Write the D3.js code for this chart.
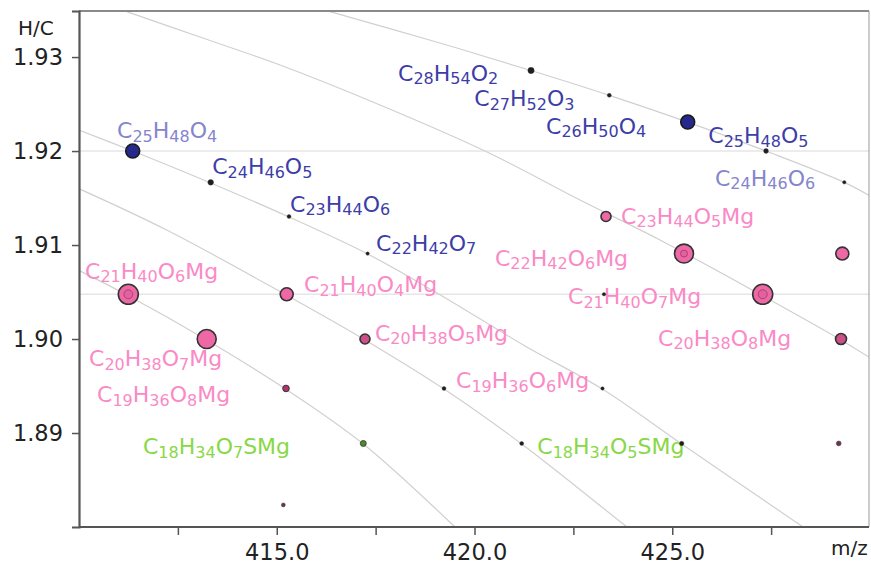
<!DOCTYPE html>
<html><head><meta charset="utf-8">
<script src="https://cdn.jsdelivr.net/npm/d3@7"></script>
<style>body{margin:0;background:#fff}svg{display:block}text{font-family:"DejaVu Sans",Verdana,sans-serif}</style>
</head><body><svg id="c" width="871" height="565"></svg>
<script>
// ---------- data ----------
const formulas = ["C25H48O4","C24H46O5","C23H44O6","C22H42O7","C28H54O2","C27H52O3","C26H50O4","C25H48O5","C24H46O6",
  "C21H40O6Mg","C20H38O7Mg","C19H36O8Mg","C21H40O4Mg","C20H38O5Mg","C19H36O6Mg","C18H34O7SMg","C18H34O5SMg","",
  "C23H44O5Mg","C22H42O6Mg","","","","C21H40O7Mg","","C20H38O8Mg","","","",""];
const mzValues = [411.358,413.330,415.310,417.297,421.429,423.408,425.391,427.371,429.350,
  411.247,413.229,415.234,415.252,417.231,419.229,417.188,421.193,415.166,
  423.325,425.297,423.274,423.236,425.239,427.287,429.300,429.267,429.209,
  411.247,427.287,425.297];
const hcValues = [1.92,1.91667,1.91304,1.90909,1.92857,1.92593,1.92308,1.92,1.91667,
  1.90476,1.90,1.89474,1.90476,1.90,1.89474,1.88889,1.88889,1.88235,
  1.91304,1.90909,1.90476,1.89474,1.88889,1.90476,1.90909,1.90,1.88889,
  1.90476,1.90476,1.90909];
const intensity = [49,8,4,3,10,4,49,6,3,
  100,90,11,42,25,4,9,4,4,
  25,90,3,3,5,100,42,30,6,
  20,20,12];
const markerClass = ["CHO","trace","trace","trace","trace","trace","CHO","trace","trace",
  "Mg","Mg","MgDeep","Mg","MgDark","trace","S","trace","traceMg",
  "Mg","Mg","trace","trace","trace","Mg","Mg","MgDark","traceMg",
  "MgInner","MgInner","MgInner"];
const labelClass = ["lite","dark","dark","dark","dark","dark","dark","dark","lite",
  "pink","pink","pink","pink","pink","pink","green","green","",
  "pink","pink","","","","pink","","pink","","","",""];
const yTicks = [1.89,1.90,1.91,1.92,1.93];
const xTicks = [412.5,415,417.5,420,422.5,425,427.5];
const xTickLabels = [415,420,425];
const gridValues = [1.92,1.90476];
const curves = [
  [[416.346,1.93483],[418.951,1.93171],[421.429,1.92857],[423.408,1.92593],[425.391,1.92308],[427.371,1.92],[429.350,1.91667],[430.05,1.91510]],
  [[411.206,1.93483],[413.059,1.93213],[415.082,1.92915],[417.611,1.92490],[420.316,1.91990],[422.668,1.91479],[424.690,1.91054],[427.295,1.90458],[429.267,1.89990],[430.05,1.89787]],
  [[409.9,1.92240],[411.358,1.92],[413.330,1.91660],[415.310,1.91298],[417.297,1.90905],[419.052,1.90490],[421.277,1.89926],[423.231,1.89468],[425.239,1.88883],[428.306,1.88],[428.736,1.87872]],
  [[409.9,1.91618],[412.217,1.91160],[415.252,1.90465],[417.231,1.89990],[419.229,1.89468],[421.193,1.88883],[423.856,1.88],[424.185,1.87894]],
  [[409.9,1.90750],[411.247,1.90461],[413.229,1.89990],[415.234,1.89465],[417.188,1.88883],[419.507,1.88],[419.760,1.87894]]
];

// ---------- layout / style ----------
const W = 871, H = 565;
const plot = {left:79, right:869, top:11, bottom:527};
const labelOffsets = {0:[-15.7,-12.7],1:[1.5,-8],2:[1,-4.5],3:[8.5,-3],4:[-133,10.3],5:[-135,10.7],6:[-141.7,11.7],
  7:[-57.7,-8],8:[-129.3,3.6],9:[-43.3,-15.7],10:[-117.7,27],11:[-189,13.7],12:[17.3,-1.8],13:[10,1.7],14:[12,0],
  15:[-220.3,11],16:[15.6,11],18:[15,7.3],19:[-189,12.4],23:[-194.7,10],25:[-183,6.7]};
const labelColor = {dark:"#3d3da8", lite:"#8585cc", pink:"#fa8ac6", green:"#88d845"};
const markerStyle = {
  CHO:{fill:"#25298c",stroke:"#1a1a1a",sw:1.5},
  trace:{fill:"#1e1e1e",stroke:"#444",sw:0.4},
  traceMg:{fill:"#6a3452",stroke:"#444",sw:0.5},
  Mg:{fill:"#ee68a6",stroke:"#333",sw:1.6},
  MgDark:{fill:"#cc4f8a",stroke:"#333",sw:1.6},
  MgDeep:{fill:"#b0356f",stroke:"#333",sw:1},
  MgInner:{fill:"#e4619f",stroke:"#9a3a68",sw:0.8},
  S:{fill:"#4d8a2a",stroke:"#333",sw:0.8}
};

const svg = d3.select("#c");
const x = d3.scaleLinear().domain([410,430]).range([79,870]);
const y = d3.scaleLinear().domain([1.88,1.9349]).range([527,11]);
const r = d3.scaleSqrt().domain([0,100]).range([0,10]);

svg.append("clipPath").attr("id","clip").append("rect")
  .attr("x",plot.left).attr("y",plot.top).attr("width",plot.right-plot.left).attr("height",plot.bottom-plot.top);

// gridlines
svg.append("g").selectAll("line").data(gridValues).join("line")
  .attr("x1",plot.left).attr("x2",plot.right).attr("y1",d=>y(d)).attr("y2",d=>y(d))
  .attr("stroke","#e6e6e6").attr("stroke-width",1.6);

// curves
const line = d3.line().x(d=>x(d[0])).y(d=>y(d[1])).curve(d3.curveCatmullRom.alpha(0.5));
svg.append("g").attr("clip-path","url(#clip)").selectAll("path").data(curves).join("path")
  .attr("d",line).attr("fill","none").attr("stroke","#d0d0d0").attr("stroke-width",1.2);

// frame
svg.append("line").attr("x1",plot.left).attr("x2",plot.right).attr("y1",plot.top).attr("y2",plot.top)
  .attr("stroke","#8a8a8a").attr("stroke-width",2);
svg.append("line").attr("x1",plot.right).attr("x2",plot.right).attr("y1",plot.top).attr("y2",plot.bottom)
  .attr("stroke","#999").attr("stroke-width",1);

// axes
const yAxis = d3.axisLeft(y).tickValues(yTicks).tickFormat(d3.format(".2f")).tickSize(7).tickPadding(9);
const gy = svg.append("g").attr("transform",`translate(${plot.left},0)`).call(yAxis);
gy.select(".domain").attr("stroke","#555").attr("stroke-width",2.2);
gy.selectAll(".tick line").attr("stroke","#555").attr("stroke-width",1.5);
gy.selectAll(".tick text").attr("fill","#222").style("font-size","22.5px").style("font-family",'"DejaVu Sans",Verdana,sans-serif');

const xAxis = d3.axisBottom(x).tickValues(xTicks).tickSize(8).tickPadding(9)
  .tickFormat(d=> xTickLabels.includes(d) ? d3.format(".1f")(d) : "");
const gx = svg.append("g").attr("transform",`translate(0,${plot.bottom})`).call(xAxis);
gx.select(".domain").attr("stroke","#555").attr("stroke-width",2.2).attr("d",`M${plot.left},0H${plot.right}`);
gx.selectAll(".tick line").attr("stroke","#555").attr("stroke-width",1.5);
gx.selectAll(".tick text").attr("fill","#222").style("font-size","22.5px").style("font-family",'"DejaVu Sans",Verdana,sans-serif');

svg.append("text").attr("x",18).attr("y",35).attr("fill","#222").style("font-size","20px").text("H/C");
svg.append("text").attr("x",831).attr("y",555).attr("fill","#222").style("font-size","20px").text("m/z");

// labels
const lg = svg.append("g");
function addFormula(str, px, py, color){
  const t = lg.append("text").attr("x",px).attr("y",py).attr("fill",color).style("font-size","22px");
  const parts = str.match(/[A-Z][a-z]?|\d+/g);
  let sub = false;
  parts.forEach(p=>{
    const isNum = /\d/.test(p);
    const ts = t.append("tspan").text(p);
    if(isNum){ ts.style("font-size","16px"); if(!sub) ts.attr("dy",3.5); sub = true; }
    else { if(sub) ts.attr("dy",-3.5); sub = false; }
  });
}
formulas.forEach((f,i)=>{
  if(!f || !labelOffsets[i]) return;
  const o = labelOffsets[i];
  addFormula(f, x(mzValues[i])+o[0], y(hcValues[i])+o[1], labelColor[labelClass[i]]);
});

// points
const idx = d3.range(mzValues.length);
svg.append("g").selectAll("circle").data(idx).join("circle")
  .attr("cx",i=>x(mzValues[i])).attr("cy",i=>y(hcValues[i])).attr("r",i=>r(intensity[i]))
  .attr("fill",i=>markerStyle[markerClass[i]].fill)
  .attr("stroke",i=>markerStyle[markerClass[i]].stroke)
  .attr("stroke-width",i=>markerStyle[markerClass[i]].sw);
</script></body></html>
